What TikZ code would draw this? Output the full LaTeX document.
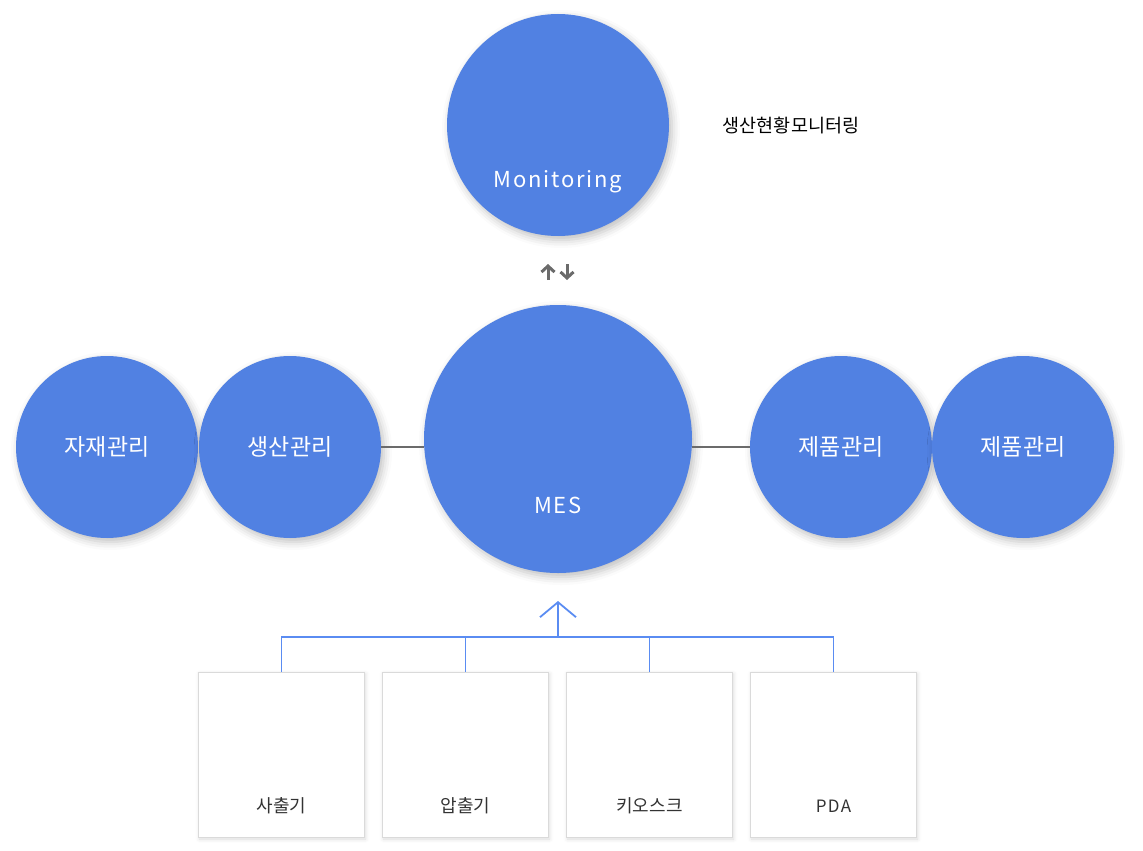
\documentclass[tikz,border=0pt]{standalone}
\usepackage{fontspec}
\setmainfont{Noto Sans CJK KR}
\usetikzlibrary{arrows.meta,shadows.blur}
\definecolor{mesblue}{HTML}{5181E2}
\definecolor{treeblue}{HTML}{5A8CF2}
\definecolor{linegray}{HTML}{6B6B6B}
\definecolor{boxgray}{HTML}{DADADA}

\begin{document}
\begin{tikzpicture}[x=1pt,y=-1pt]
\tikzstyle{every node}+=[inner sep=0pt]
\tikzstyle{bubble}=[circle, fill=mesblue, blur shadow={shadow xshift=3pt, shadow yshift=-4pt, shadow blur radius=8pt, shadow opacity=25}]
\tikzstyle{bubtext}=[text=white, font=\fontsize{23}{27}\selectfont]
\tikzstyle{devbox}=[rectangle, draw=boxgray, fill=white, minimum width=166, minimum height=165, blur shadow={shadow xshift=1pt, shadow yshift=-2pt, shadow blur radius=4pt, shadow opacity=15}]
\tikzstyle{devtext}=[text=black!80, font=\fontsize{18}{21}\selectfont]
\useasboundingbox (0,0) rectangle (1143,851);
% circles
\node [bubble, minimum size=222] (mon) at (558,125) {};
\node [bubtext, font=\fontsize{22}{26}\selectfont\addfontfeature{LetterSpace=8}] (montext) at (558,182) {Monitoring};
\node [bubble, minimum size=268] (mes) at (558,439) {};
\node [bubtext, font=\fontsize{22}{26}\selectfont\addfontfeature{LetterSpace=8}] (mestext) at (558,505) {MES};
\node [bubble, minimum size=182] (mat) at (107,447) {};
\node [bubtext] (mattext) at (107,447) {자재관리};
\node [bubble, minimum size=182] (prod) at (290,447) {};
\node [bubtext] (prodtext) at (290,447) {생산관리};
\node [bubble, minimum size=182] (goods) at (841,447) {};
\node [bubtext] (goodstext) at (841,447) {제품관리};
\node [bubble, minimum size=182] (goodsb) at (1023,447) {};
\node [bubtext] (goodsbtext) at (1023,447) {제품관리};
\node [font=\fontsize{18.5}{22}\selectfont] (montitle) at (791,126) {생산현황모니터링};
% links
\draw [linegray, line width=2] (prod.east) -- (prod.east -| mes.west);
\draw [linegray, line width=2] (goods.west -| mes.east) -- (goods.west);
\coordinate (upa) at (548,280);
\coordinate (upb) at (548,264);
\coordinate (dna) at (567,264);
\coordinate (dnb) at (567,280);
\draw [linegray, line width=3, -{Straight Barb[length=6pt,width=13pt]}] (upa) -- (upb);
\draw [linegray, line width=3, -{Straight Barb[length=6pt,width=13pt]}] (dna) -- (dnb);
% devices
\node [devbox] (inj) at (281.5,754.5) {};
\node [devtext] (injtext) at (281.5,806) {사출기};
\node [devbox] (ext) at (465.5,754.5) {};
\node [devtext] (exttext) at (465.5,806) {압출기};
\node [devbox] (kio) at (649.5,754.5) {};
\node [devtext] (kiotext) at (649.5,806) {키오스크};
\node [devbox] (pda) at (833.5,754.5) {};
\node [devtext, font=\fontsize{17}{20}\selectfont\addfontfeature{LetterSpace=8}] (pdatext) at (833.5,806) {PDA};
% tree
\coordinate (bus) at (558,637);
\coordinate (tip) at (558,601);
\draw [treeblue, line width=1.8] (inj.north) -- (inj.north |- bus) -- (pda.north |- bus) -- (pda.north);
\draw [treeblue, line width=1.8] (ext.north) -- (ext.north |- bus);
\draw [treeblue, line width=1.8] (kio.north) -- (kio.north |- bus);
\draw [treeblue, line width=1.8, -{Straight Barb[length=15pt,width=36pt]}] (bus) -- (tip);
\end{tikzpicture}
\end{document}
